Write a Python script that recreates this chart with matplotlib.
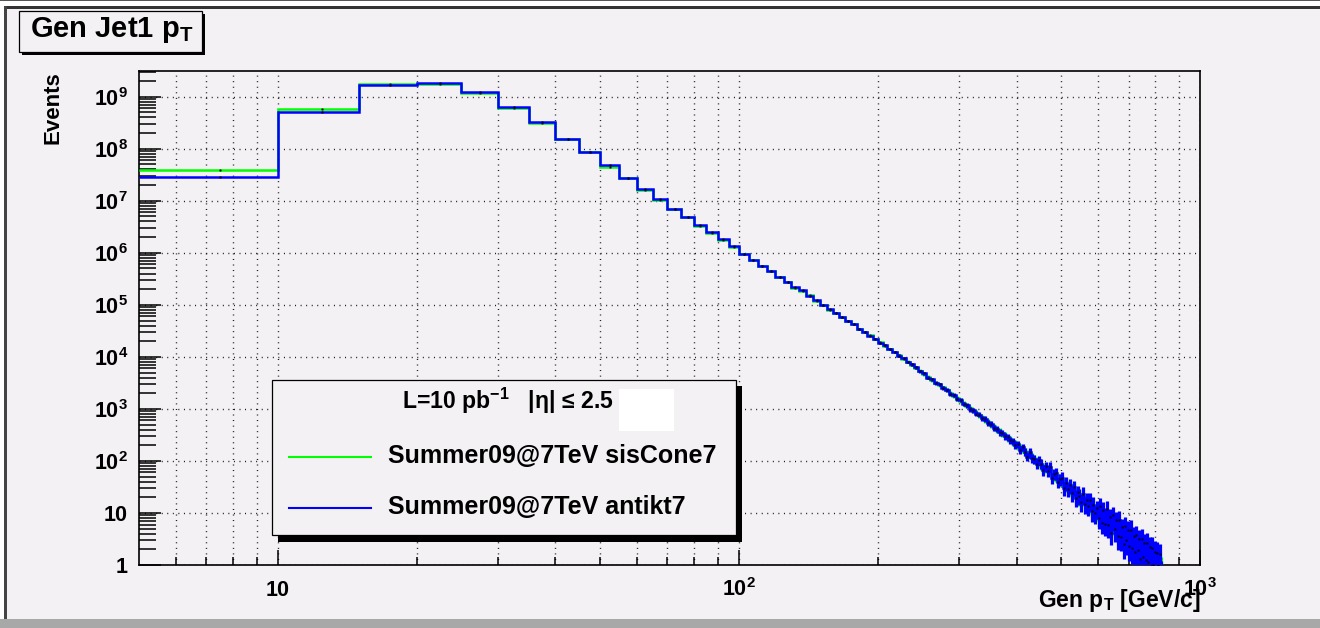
import numpy as np
import matplotlib
matplotlib.use("Agg")
import matplotlib.pyplot as plt
from matplotlib.patches import Rectangle
from matplotlib.lines import Line2D
from matplotlib.ticker import FixedLocator, FuncFormatter, NullFormatter

plt.rcParams['font.family'] = ['Liberation Sans', 'DejaVu Sans']
plt.rcParams['font.weight'] = 'bold'
plt.rcParams['mathtext.fontset'] = 'custom'
plt.rcParams['mathtext.rm'] = 'Liberation Sans:bold'
plt.rcParams['mathtext.bf'] = 'Liberation Sans:bold'
plt.rcParams['mathtext.it'] = 'Liberation Sans:bold:italic'
plt.rcParams['mathtext.default'] = 'bf'

# ---------------------------------------------------------------- data
# leading jet generator-level pT, 5 GeV bins (first bin 5-10 GeV)
bin_edges = np.concatenate([[5.0], np.arange(10.0, 826.0, 5.0)])

events_siscone7 = np.array([
    3.9e7, 5.8e8, 1.76e9, 1.78e9, 1.16e9, 6.0e8, 3.08e8, 1.52e8, 8.5e7, 4.5e7,
    2.7e7, 1.61e7, 1.05e7, 6.9e6, 4.8e6, 3.3e6, 2.4e6, 1.75e6, 1.30e6, 9.3e5,
    7.2e5, 5.6e5, 4.4e5, 3.5e5, 2.7e5, 2.15e5, 1.85e5, 1.52e5, 1.2e5, 1.0e5,
    8.0e4, 7.0e4, 5.9e4, 4.9e4, 4.2e4, 3.5e4, 3.0e4, 2.6e4, 2.2e4, 1.9e4,
    1.65e4, 1.42e4, 1.22e4, 1.08e4, 9.2e3, 8.1e3, 7.0e3, 6.2e3, 5.4e3, 4.7e3,
    4.1e3, 3.6e3, 3.2e3, 2.9e3, 2.6e3, 2.3e3, 2.0e3, 1.8e3, 1.6e3, 1.45e3,
    1.28e3, 1.15e3, 1.02e3, 920, 840, 750, 690, 610, 560, 490,
    460, 400, 375, 335, 315, 275, 262, 232, 214, 195,
    178, 170, 149, 138, 135, 117, 108, 98, 96, 84,
    76, 74, 66, 68, 55, 54, 52, 45, 44, 43,
    34, 36, 31, 31, 27, 28, 22, 24, 21, 18,
    20.5, 16, 16.8, 14.5, 15.5, 12.2, 13.2, 11.0, 11.5, 9.0,
    10.8, 8.9, 9.0, 7.4, 8.4, 6.7, 7.2, 5.9, 6.6, 5.5,
    5.6, 4.6, 5.4, 4.3, 4.6, 3.6, 4.3, 3.5, 3.7, 2.9,
    3.4, 2.7, 3.0, 2.4, 2.7, 2.25, 2.4, 1.9, 2.3, 1.85,
    1.9, 1.6, 1.9, 1.5, 1.6, 1.3, 1.5, 1.25, 1.32, 1.08,
    1.25, 1.0, 1.1, 0.88,
])

events_antikt7 = np.array([
    2.9e7, 5.0e8, 1.68e9, 1.82e9, 1.22e9, 6.4e8, 3.27e8, 1.56e8, 8.8e7, 4.8e7,
    2.7e7, 1.7e7, 1.08e7, 7.0e6, 4.9e6, 3.38e6, 2.5e6, 1.82e6, 1.35e6, 9.5e5,
    7.3e5, 5.7e5, 4.5e5, 3.4e5, 2.76e5, 2.2e5, 1.9e5, 1.5e5, 1.22e5, 9.8e4,
    8.2e4, 7.1e4, 5.8e4, 4.95e4, 4.25e4, 3.45e4, 3.05e4, 2.55e4, 2.25e4, 1.87e4,
    1.69e4, 1.39e4, 1.25e4, 1.06e4, 9.5e3, 7.9e3, 7.2e3, 6.3e3, 5.3e3, 4.8e3,
    4.0e3, 3.7e3, 3.15e3, 2.95e3, 2.55e3, 2.35e3, 1.95e3, 1.85e3, 1.55e3, 1.48e3,
    1.25e3, 1.18e3, 990, 950, 810, 780, 660, 640, 530, 515,
    435, 420, 355, 350, 295, 290, 250, 240, 205, 210,
    164, 183, 151, 120, 148, 114, 110, 88, 104, 89,
    67, 79, 65, 76, 47, 57, 58, 40, 44, 48,
    30, 38.5, 29, 34.5, 24, 31, 19.6, 25, 21.4, 16,
    23, 14.8, 17.8, 13.6, 17.4, 10.8, 14.5, 9.9, 12.3, 7.9,
    13.7, 6.5, 11.3, 6.2, 11.7, 5.8, 8.3, 4.2, 9.0, 4.9,
    7.2, 3.6, 7.4, 3.5, 5.3, 2.5, 5.7, 3.0, 4.7, 2.3,
    4.8, 2.1, 3.6, 1.75, 3.75, 1.9, 3.1, 1.3, 3.2, 1.45,
    2.6, 1.25, 2.7, 1.15, 2.2, 0.95, 2.15, 1.0, 1.8, 0.85,
    1.7, 0.83, 1.6, 0.76,
])

# relative statistical uncertainty per bin (weighted MC)
rel_err = np.array([
    0.001, 0.001, 0.001, 0.001, 0.001, 0.001, 0.001, 0.001, 0.002, 0.002,
    0.002, 0.002, 0.003, 0.003, 0.003, 0.004, 0.004, 0.005, 0.005, 0.006,
    0.006, 0.007, 0.008, 0.009, 0.010, 0.011, 0.012, 0.013, 0.015, 0.016,
    0.018, 0.020, 0.022, 0.024, 0.026, 0.028, 0.030, 0.033, 0.035, 0.038,
    0.040, 0.043, 0.046, 0.049, 0.052, 0.055, 0.058, 0.061, 0.064, 0.067,
    0.070, 0.073, 0.076, 0.079, 0.082, 0.085, 0.088, 0.091, 0.094, 0.097,
    0.10, 0.10, 0.11, 0.11, 0.11, 0.12, 0.12, 0.12, 0.13, 0.13,
    0.13, 0.14, 0.14, 0.14, 0.15, 0.15, 0.15, 0.16, 0.16, 0.16,
    0.17, 0.17, 0.18, 0.18, 0.19, 0.19, 0.20, 0.20, 0.21, 0.21,
    0.22, 0.22, 0.23, 0.23, 0.24, 0.24, 0.25, 0.25, 0.26, 0.26,
    0.30, 0.30, 0.31, 0.31, 0.32, 0.32, 0.33, 0.33, 0.34, 0.34,
    0.35, 0.35, 0.36, 0.36, 0.37, 0.37, 0.38, 0.38, 0.39, 0.39,
    0.40, 0.40, 0.41, 0.41, 0.42, 0.42, 0.43, 0.43, 0.44, 0.44,
    0.45, 0.45, 0.46, 0.46, 0.47, 0.47, 0.48, 0.48, 0.49, 0.49,
    0.50, 0.50, 0.51, 0.51, 0.52, 0.52, 0.53, 0.53, 0.54, 0.54,
    0.55, 0.55, 0.56, 0.56, 0.57, 0.57, 0.58, 0.58, 0.59, 0.59,
    0.60, 0.60, 0.60, 0.60,
])

series_labels = ["Summer09@7TeV sisCone7", "Summer09@7TeV antikt7"]
header_text = r"L=10 pb$^{\mathbf{-1}}$   |η| ≤ 2.5"
title_text = r"Gen Jet1 p$_{\mathbf{T}}$"
x_title = r"Gen p$_{\mathbf{T}}$ [GeV/c]"
y_title = "Events"

# ---------------------------------------------------------------- style
BG = '#f4f1f4'
GREEN = '#00ff00'
BLUE = '#0000ff'
W, H = 1320, 628


def fx(px):
    return px / W


def fy(py):
    return 1.0 - py / H


fig = plt.figure(figsize=(W / 100, H / 100), dpi=100, facecolor=BG)


def fig_rect(x0, y0, x1, y1, **kw):
    r = Rectangle((fx(x0), fy(y1)), fx(x1) - fx(x0), fy(y0) - fy(y1),
                  transform=fig.transFigure, **kw)
    fig.add_artist(r)
    return r


# canvas frame
fig_rect(0, 0, W, 6, facecolor='white', edgecolor='none', zorder=1)
fig_rect(0, 0, W, 1.3, facecolor='#555555', edgecolor='none', zorder=1)
fig_rect(0, 6, W, 8.5, facecolor='#333333', edgecolor='none', zorder=1)
fig_rect(0, 6, 4, 619, facecolor='white', edgecolor='none', zorder=1)
fig_rect(4, 6, 7, 619, facecolor='#444444', edgecolor='none', zorder=1)
fig_rect(0, 619, W, H, facecolor='#a8a8a8', edgecolor='none', zorder=1)

# ---------------------------------------------------------------- axes
ax = fig.add_axes([fx(139), fy(565), fx(1200) - fx(139), fy(70.7) - fy(565)])
ax.set_facecolor(BG)
ax.set_xscale('log')
ax.set_yscale('log')
ax.set_xlim(5, 1000)
ax.set_ylim(1, 10 ** 9.5)

for s in ax.spines.values():
    s.set_linewidth(1.2)
    s.set_color('black')

x_major = [10, 100, 1000]
x_minor = [6, 7, 8, 9] + list(range(20, 100, 10)) + list(range(200, 1000, 100))
y_major = [10.0 ** k for k in range(0, 10)]
y_minor = [m * 10.0 ** k for k in range(0, 10) for m in range(2, 10)]

ax.xaxis.set_major_locator(FixedLocator(x_major))
ax.xaxis.set_minor_locator(FixedLocator(x_minor))
ax.yaxis.set_major_locator(FixedLocator(y_major))
ax.yaxis.set_minor_locator(FixedLocator(y_minor))


def pow_label(v, pos=None):
    k = int(round(np.log10(v)))
    if k == 0:
        return r'$\mathbf{1}$'
    if k == 1:
        return r'$\mathbf{10}$'
    return r'$\mathbf{10^{%d}}$' % k


ax.xaxis.set_major_formatter(FuncFormatter(pow_label))
ax.yaxis.set_major_formatter(FuncFormatter(pow_label))
ax.xaxis.set_minor_formatter(NullFormatter())
ax.yaxis.set_minor_formatter(NullFormatter())

ax.tick_params(which='both', direction='in', top=False, right=False,
               width=1.1, color='black', labelsize=15.5)
ax.tick_params(axis='x', which='major', length=11, pad=22)
ax.tick_params(axis='x', which='minor', length=5.5)
ax.tick_params(axis='y', which='major', length=16, pad=8)
ax.tick_params(axis='y', which='minor', length=12.5)
for t in ax.xaxis.get_major_ticks():
    t.label1.set_verticalalignment('baseline')

grid_style = dict(color='#111111', linewidth=1.0, linestyle=(0, (0.7, 3.3)))
ax.grid(True, axis='x', which='both', **grid_style)
ax.grid(True, axis='y', which='major', **grid_style)
ax.set_axisbelow(True)

# ---------------------------------------------------------------- histograms
centers = 0.5 * (bin_edges[:-1] + bin_edges[1:])
for vals, col, z in ((events_siscone7, GREEN, 3), (events_antikt7, BLUE, 4)):
    ax.vlines(centers, vals * (1 - rel_err), vals * (1 + rel_err),
              colors=col, linewidth=2.3, zorder=z)
    ax.stairs(vals, bin_edges, color=col, linewidth=1.8, baseline=None, zorder=z)
    ax.plot(centers, vals, linestyle='none', marker='s', markersize=1.4,
            markeredgewidth=0, color='black', zorder=z + 0.5)

# ---------------------------------------------------------------- texts
# title pave
fig_rect(22.3, 14, 205, 55, facecolor='black', edgecolor='none', zorder=5)
fig_rect(19, 10.7, 201.7, 51.7, facecolor=BG, edgecolor='black', linewidth=0.9, zorder=5)
fig.text(fx(29.5), fy(36.7), title_text, fontsize=21, ha='left', va='baseline', zorder=6)

fig.text(fx(53.5), fy(71.5), y_title, rotation=90, fontsize=16,
         ha='center', va='top', zorder=6)
fig.text(fx(1201), fy(607), x_title, fontsize=16.5, ha='right', va='baseline', zorder=6)

# legend
fig_rect(278, 386, 741.7, 541.5, facecolor='black', edgecolor='none', zorder=5)
fig_rect(272.3, 380, 736, 535, facecolor=BG, edgecolor='black', linewidth=0.9, zorder=5)
fig_rect(619, 389, 674.3, 430.7, facecolor='white', edgecolor='none', zorder=6)
fig.text(fx(401.7), fy(409.3), header_text, fontsize=16.6, ha='left', va='baseline', zorder=6)
for label, col, yl in ((series_labels[0], GREEN, 457), (series_labels[1], BLUE, 508)):
    fig.add_artist(Line2D([fx(289), fx(371)], [fy(yl), fy(yl)], color=col,
                          linewidth=1.5, transform=fig.transFigure, zorder=6))
    fig.text(fx(388), fy(yl + 6), label, fontsize=18, ha='left',
             va='baseline', zorder=6)

fig.savefig('out.png', dpi=100, facecolor=BG)
